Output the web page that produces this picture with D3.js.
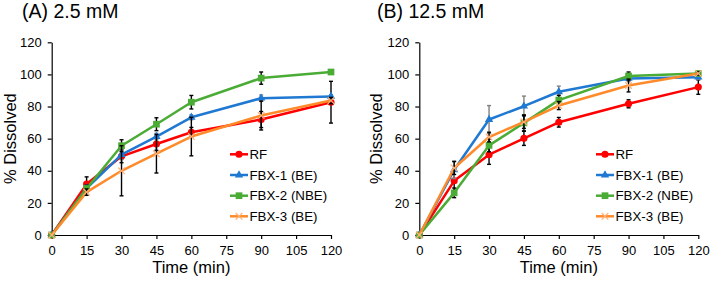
<!DOCTYPE html>
<html>
<head>
<meta charset="utf-8">
<script src="https://cdn.jsdelivr.net/npm/d3@7"></script>
<style>
  body { margin: 0; background: #fff; }
  svg { display: block; font-family: 'Liberation Sans', Arial, sans-serif; }
</style>
</head>
<body>
<svg width="711" height="282"></svg>
<script>
let times = [0, 15, 30, 45, 60, 90, 120]
let xTicks = [0, 15, 30, 45, 60, 75, 90, 105, 120]
let yTicks = [0, 20, 40, 60, 80, 100, 120]
let seriesNames = ['RF', 'FBX-1 (BE)', 'FBX-2 (NBE)', 'FBX-3 (BE)']

// (A) 2.5 mM
let rfA = [0, 31.7, 49, 56.7, 64, 71.9, 82.7]
let fbx1A = [0, 29, 50, 61.3, 73.3, 85.2, 86.3]
let fbx2A = [0, 29, 55.6, 69, 82.7, 97.7, 101.5]
let fbx3A = [0, 26.7, 40, 50.6, 61.3, 74.4, 83.7]
let rfErrA = [0, 4.5, 4, 4, 3, 5, 13]
let fbx1ErrA = [0, 2, 3, 2, 1.5, 2, 1]
let fbx2ErrA = [0, 2, 3.7, 4, 4.2, 3.8, 1]
let fbx3ErrA = [0, 2, 15.6, 12, 12, 9, 2]

// (B) 12.5 mM
let rfB = [0, 33.75, 50, 60.2, 70.2, 81.7, 92.1]
let fbx1B = [0, 40.6, 71.9, 80.2, 89.2, 97.5, 98.3]
let fbx2B = [0, 26.25, 55.8, 69.8, 84, 99, 100.6]
let fbx3B = [0, 41.7, 61, 70.4, 80.6, 93.1, 100.6]
let rfErrB = [0, 7, 6, 4.4, 3, 2.5, 4.5]
let fbx1ErrB = [0, 5.5, 8.7, 6.3, 3.5, 2, 1.5]
let fbx2ErrB = [0, 3, 4, 5, 3, 2.5, 1]
let fbx3ErrB = [0, 4, 3, 4, 2.5, 4, 1]

let colors = ['#ff0000', '#1f78d1', '#4aab35', '#ff8a2a']
let errColors = ['#000', '#808080', '#000', '#000']
let symbols = [d3.symbolCircle, d3.symbolTriangle, d3.symbolSquare, d3.symbolX]
let symSizes = [40, 30, 45, 30]

let panels = [
  {
    title: '(A) 2.5 mM', x0: 51.7, x1: 331, titleX: 22, yTitleX: 16, legendX: 230,
    values: [rfA, fbx1A, fbx2A, fbx3A], errors: [rfErrA, fbx1ErrA, fbx2ErrA, fbx3ErrA]
  },
  {
    title: '(B) 12.5 mM', x0: 419.3, x1: 698.3, titleX: 377, yTitleX: 381.5, legendX: 596,
    values: [rfB, fbx1B, fbx2B, fbx3B], errors: [rfErrB, fbx1ErrB, fbx2ErrB, fbx3ErrB]
  }
]

let svg = d3.select('svg')
let yTop = 42.3
let yBottom = 235

panels.forEach(p => {
  let xScale = d3.scaleLinear().domain([0, 120]).range([p.x0, p.x1])
  let yScale = d3.scaleLinear().domain([0, 120]).range([yBottom, yTop])
  let g = svg.append('g')

  let xAxis = d3.axisBottom(xScale).tickValues(xTicks).tickSize(4).tickSizeOuter(0).tickPadding(7)
  let yAxis = d3.axisLeft(yScale).tickValues(yTicks).tickSize(4).tickSizeOuter(0).tickPadding(6)

  let gx = g.append('g')
    .attr('transform', 'translate(' + [0, yBottom] + ')')
    .call(xAxis)
  let gy = g.append('g')
    .attr('transform', 'translate(' + [p.x0, 0] + ')')
    .call(yAxis)
  ;[gx, gy].forEach(a => {
    a.selectAll('path, line').attr('stroke', '#000').attr('stroke-width', 1.2)
    a.selectAll('text').attr('font-size', 13).attr('fill', '#000').attr('font-family', null)
  })

  g.append('text')
    .attr('x', p.titleX).attr('y', 18)
    .attr('font-size', 19.5)
    .text(p.title)

  g.append('text')
    .attr('x', (p.x0 + p.x1) / 2).attr('y', 273)
    .attr('text-anchor', 'middle')
    .attr('font-size', 16.5)
    .text('Time (min)')

  g.append('text')
    .attr('transform', 'translate(' + [p.yTitleX, (yTop + yBottom) / 2] + ') rotate(-90)')
    .attr('text-anchor', 'middle')
    .attr('font-size', 16.5)
    .text('% Dissolved')

  let line = d3.line().x((d, i) => xScale(times[i])).y(d => yScale(d))

  p.values.forEach((vals, s) => {
    let errs = p.errors[s]
    g.append('path')
      .datum(vals)
      .attr('d', line)
      .attr('fill', 'none')
      .attr('stroke', colors[s])
      .attr('stroke-width', 2.5)
      .attr('stroke-linejoin', 'round')

    let eb = g.append('g')
      .attr('stroke', errColors[s])
      .attr('stroke-width', 1.4)
    vals.forEach((v, i) => {
      if (!errs[i]) return
      let cx = xScale(times[i])
      let top = yScale(v + errs[i])
      let bot = yScale(v - errs[i])
      eb.append('line').attr('x1', cx).attr('x2', cx).attr('y1', top).attr('y2', bot)
      eb.append('line').attr('x1', cx - 2).attr('x2', cx + 2).attr('y1', top).attr('y2', top)
      eb.append('line').attr('x1', cx - 2).attr('x2', cx + 2).attr('y1', bot).attr('y2', bot)
    })

    let sym = d3.symbol().type(symbols[s]).size(symSizes[s])
    g.selectAll(null)
      .data(vals)
      .enter()
      .append('path')
      .attr('d', sym)
      .attr('transform', (d, i) => 'translate(' + [xScale(times[i]), yScale(d)] + ')')
      .attr('fill', s === 3 ? 'none' : colors[s])
      .attr('stroke', s === 3 ? '#ffb27a' : 'none')
      .attr('stroke-width', 1.2)
  })

  // legend
  let rowY = [154.3, 175, 195.7, 216.3]
  seriesNames.forEach((name, s) => {
    let lx = p.legendX
    g.append('line')
      .attr('x1', lx).attr('x2', lx + 18)
      .attr('y1', rowY[s]).attr('y2', rowY[s])
      .attr('stroke', colors[s]).attr('stroke-width', 2.5)
    g.append('path')
      .attr('d', d3.symbol().type(symbols[s]).size(symSizes[s]))
      .attr('transform', 'translate(' + [lx + 9, rowY[s]] + ')')
      .attr('fill', s === 3 ? 'none' : colors[s])
      .attr('stroke', s === 3 ? '#ffb27a' : 'none')
      .attr('stroke-width', 1.2)
    g.append('text')
      .attr('x', lx + 19.5).attr('y', rowY[s])
      .attr('dy', '0.36em')
      .attr('font-size', 13.3)
      .text(name)
  })
})
</script>
</body>
</html>
